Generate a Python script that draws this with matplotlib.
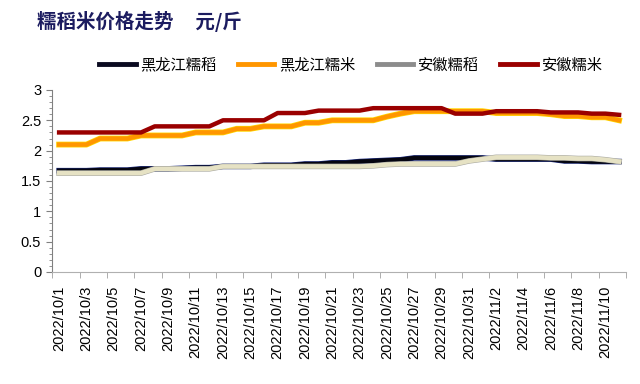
import matplotlib
matplotlib.use("Agg")
import matplotlib.pyplot as plt
import matplotlib.patheffects as pe
from matplotlib.ticker import MultipleLocator, FixedLocator
import pandas as pd

plt.rcParams['font.family'] = ['Liberation Sans', 'Noto Sans CJK SC', 'DejaVu Sans']

# === Data (10/1 - 11/11, daily) ===
dates = pd.date_range("2022-10-01", "2022-11-11", freq="D")
labels = [f"{d.year}/{d.month}/{d.day}" for d in dates]

hlj_rice = [1.67, 1.67, 1.67, 1.68, 1.68, 1.68, 1.70, 1.70, 1.70, 1.71,
            1.72, 1.72, 1.74, 1.74, 1.74, 1.76, 1.76, 1.76, 1.78, 1.78,
            1.80, 1.80, 1.82, 1.83, 1.84, 1.85, 1.88, 1.88, 1.88, 1.88,
            1.88, 1.88, 1.86, 1.86, 1.86, 1.86, 1.86, 1.83, 1.83, 1.82,
            1.82, 1.82]
hlj_mi = [2.10, 2.10, 2.10, 2.20, 2.20, 2.20, 2.25, 2.25, 2.25, 2.25,
          2.30, 2.30, 2.30, 2.36, 2.36, 2.40, 2.40, 2.40, 2.46, 2.46,
          2.50, 2.50, 2.50, 2.50, 2.56, 2.61, 2.65, 2.65, 2.65, 2.65,
          2.65, 2.65, 2.62, 2.62, 2.62, 2.62, 2.60, 2.57, 2.57, 2.55,
          2.55, 2.50]
ah_rice = [1.63, 1.63, 1.63, 1.63, 1.63, 1.63, 1.63, 1.70, 1.70, 1.70,
           1.70, 1.70, 1.74, 1.74, 1.74, 1.74, 1.74, 1.74, 1.74, 1.74,
           1.74, 1.74, 1.74, 1.75, 1.77, 1.78, 1.78, 1.78, 1.78, 1.78,
           1.83, 1.86, 1.89, 1.89, 1.89, 1.89, 1.88, 1.88, 1.87, 1.87,
           1.85, 1.82]
ah_mi = [2.30, 2.30, 2.30, 2.30, 2.30, 2.30, 2.30, 2.40, 2.40, 2.40,
         2.40, 2.40, 2.50, 2.50, 2.50, 2.50, 2.62, 2.62, 2.62, 2.66,
         2.66, 2.66, 2.66, 2.70, 2.70, 2.70, 2.70, 2.70, 2.70, 2.61,
         2.61, 2.61, 2.65, 2.65, 2.65, 2.65, 2.63, 2.63, 2.63, 2.61,
         2.61, 2.59]

x = list(range(len(labels)))

fig = plt.figure(figsize=(6.4, 3.84), dpi=100)
ax = fig.add_axes([0.0817, 0.2917, 0.8963, 0.474])

lw = 3.2
ax.plot(x, hlj_rice, color="#050510", lw=lw, label="黑龙江糯稻",
        path_effects=[pe.Stroke(linewidth=lw + 0.8, foreground="#1a2a80"), pe.Normal()])
ax.plot(x, ah_rice, color="#e6e2c4", lw=lw, label="安徽糯稻",
        path_effects=[pe.Stroke(linewidth=lw + 0.8, foreground="#a8a8a0"), pe.Normal()])
ax.plot(x, hlj_mi, color="#ff9600", lw=lw, label="黑龙江糯米",
        path_effects=[pe.Stroke(linewidth=lw + 1.0, foreground="#ffd800"), pe.Normal()])
ax.plot(x, ah_mi, color="#9a0000", lw=lw, label="安徽糯米")

ax.set_xlim(-0.5, len(x) - 0.5)
ax.set_ylim(0, 3)
ax.yaxis.set_minor_locator(MultipleLocator(0.1))
ax.set_yticks([0, 0.5, 1, 1.5, 2, 2.5, 3])
ax.set_yticklabels(["0", "0.5", "1", "1.5", "2", "2.5", "3"], fontsize=10.5)

# category axis: labels every other day, tick marks between categories
ax.set_xticks(x[::2])
ax.set_xticklabels(labels[::2], rotation=90, fontsize=10.5)
ax.tick_params(axis="x", length=0, pad=10)
ax.xaxis.set_minor_locator(FixedLocator([i - 0.5 for i in range(0, len(x) + 1, 2)]))
ax.tick_params(axis="x", which="minor", length=4, color="#a0a0a0", direction="out")
ax.tick_params(axis="y", which="major", length=4, color="#808080", direction="out", pad=4)
ax.tick_params(axis="y", which="minor", length=2.5, color="#808080", direction="out")

for s in ["top", "right"]:
    ax.spines[s].set_visible(False)
ax.spines["left"].set_color("#808080")
ax.spines["bottom"].set_color("#b0b0b0")

fig.text(0.058, 0.943, "糯稻米价格走势     元/斤", fontsize=14, fontweight="bold",
         color="#1c1c60", va="center", family=["Noto Sans CJK SC", "DejaVu Sans"])

h, l = ax.get_legend_handles_labels()
order = [0, 2, 1, 3]
leg = fig.legend([h[i] for i in order], [l[i] for i in order], loc="center",
                 bbox_to_anchor=(0.548, 0.83), ncol=4, frameon=False,
                 handlelength=2.4, handletextpad=0.3, columnspacing=1.4,
                 prop={"family": ["Noto Sans CJK SC", "DejaVu Sans"], "size": 11})
leg_colors = ["#0a0a20", "#ff9600", "#8c8c8c", "#9a0000"]
for line, c in zip(leg.get_lines(), leg_colors):
    line.set_path_effects([])
    line.set_color(c)
    line.set_linewidth(3.5)

plt.savefig("out.png", dpi=100)
